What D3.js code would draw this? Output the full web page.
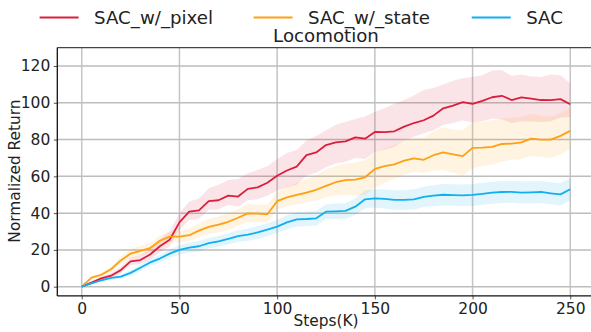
<!DOCTYPE html>
<html><head><meta charset="utf-8">
<script src="https://cdn.jsdelivr.net/npm/d3@7"></script>
<style>body{margin:0;background:#fff}svg{display:block}text{font-family:"DejaVu Sans",sans-serif}</style>
</head><body>
<script>
const steps = d3.range(0, 251, 5);
const seriesNames = ["SAC_w/_pixel", "SAC_w/_state", "SAC"];
const seriesColors = ["#dc1e3c", "#ffa010", "#0fb0f0"];
const xTicks = [0, 50, 100, 150, 200, 250];
const yTicks = [0, 20, 40, 60, 80, 100, 120];

const pixel = [0,2.2,4.5,6.0,9.0,13.8,14.5,17.5,22.0,25.5,35.0,40.8,41.5,46.5,47.0,49.5,49.0,53.2,54.0,56.5,60.3,63.2,65.3,71.5,73.0,77.0,78.5,79.0,81.2,80.5,84.1,84.0,84.5,87.0,89.0,90.5,93.0,97.0,98.5,100.3,99.4,101.0,103.0,103.8,101.5,102.9,102.3,101.5,101.4,102.0,99.2];
const pixelHi = [0.5,3.0,5.6,7.5,10.8,15.8,17.3,20.7,25.8,30.0,40.0,46.3,48.0,53.5,55.5,58.0,58.5,61.7,63.5,65.5,69.3,72.7,74.3,79.5,82.0,85.0,88.0,89.5,91.2,92.5,95.1,97.0,99.5,101.5,104.0,107.0,108.0,110.0,112.0,113.3,114.0,115.0,117.5,117.8,114.5,115.4,114.3,114.0,115.4,115.0,110.6];
const pixelLo = [-0.5,1.5,3.5,4.6,7.3,11.8,12.3,14.8,18.8,21.8,31.0,36.3,37.0,41.8,42.0,44.5,43.5,47.0,47.5,49.5,52.3,54.0,55.5,60.5,62.0,65.0,67.0,68.0,70.0,69.5,73.1,74.5,76.0,79.5,81.5,83.5,85.0,88.0,89.0,90.3,89.4,90.0,91.5,91.0,89.0,89.9,89.8,89.5,90.0,92.0,92.2];

const state = [0,4.9,6.5,9.5,14.3,18.0,19.5,21.0,25.0,27.2,27.2,28.0,30.5,32.5,33.7,35.3,37.5,39.9,39.7,39.4,46.5,48.6,49.9,51.2,52.7,54.8,56.8,58.0,58.2,59.5,64.0,65.5,66.5,68.5,69.8,69.0,71.5,73.0,72.0,71.0,75.5,75.6,76.0,77.6,77.8,78.5,80.5,80.0,80.0,82.0,84.7];
const stateHi = [0.5,5.6,7.6,10.9,16.4,20.5,22.2,23.8,27.8,30.2,30.2,31.5,34.5,36.8,38.2,40.0,42.3,44.8,44.7,44.6,51.5,54.2,56.5,58.5,60.5,63.8,65.5,67.0,67.5,68.8,72.7,75.0,77.0,79.5,81.0,81.0,84.5,86.5,85.5,85.0,89.5,89.5,90.5,91.5,92.0,92.4,94.0,93.0,92.5,94.5,97.0];
const stateLo = [-0.5,4.0,5.3,8.0,12.5,15.5,17.0,18.4,22.3,24.3,24.2,24.8,27.0,28.7,29.6,30.8,33.0,35.2,35.0,34.9,42.0,43.8,44.7,45.8,46.9,48.8,49.8,50.0,49.5,50.0,54.0,56.5,58.5,61.0,62.5,62.0,63.0,63.5,62.0,60.5,64.5,65.5,66.5,68.0,69.0,69.5,71.0,70.5,70.0,72.0,74.7];

const sac = [0,1.8,3.5,4.8,5.5,7.5,10.3,13.2,15.3,18.0,20.0,21.3,22.0,23.7,24.6,26.0,27.5,28.3,29.5,31.0,32.7,35.0,36.6,36.8,37.2,40.8,41.0,41.2,43.5,47.5,48.0,47.7,47.2,47.2,47.5,48.8,49.5,50.0,49.8,49.7,49.9,50.5,51.1,51.5,51.6,51.2,51.3,51.5,50.8,50.2,53.0];
const sacHi = [0.5,2.4,4.3,5.8,6.7,9.0,12.0,15.0,17.3,20.2,22.5,24.0,24.8,26.5,27.5,29.0,30.7,31.6,33.0,34.5,36.2,38.8,40.5,40.8,41.2,44.8,45.2,45.5,48.0,52.3,53.0,52.9,52.5,52.6,53.0,54.3,55.2,55.8,55.7,55.6,55.9,56.5,57.1,57.5,57.6,57.2,57.3,57.5,56.8,56.2,59.0];
const sacLo = [-0.5,1.2,2.7,3.8,4.3,6.0,8.6,11.3,13.2,15.8,17.5,18.6,19.2,20.9,21.7,23.0,24.3,25.0,26.0,27.5,29.2,31.2,32.8,33.0,33.2,36.8,37.0,37.0,39.0,42.7,43.0,42.5,41.9,41.8,42.0,43.3,43.8,44.2,44.0,43.8,43.9,44.5,45.1,45.5,45.6,45.2,45.3,45.5,44.8,44.2,47.0];

const W = 591, H = 332;
const svg = d3.select("body").append("svg").attr("width", W).attr("height", H);
const x = d3.scaleLinear().domain([-12.5, 262.5]).range([57.3, 594.7]);
const y = d3.scaleLinear().domain([-5, 130]).range([295.9, 47.6]);
const L = 57.3, R = 600, T = 47.6, B = 295.9;

// grid
const grid = svg.append("g");
grid.selectAll(".gx").data(xTicks).join("line")
  .attr("x1", d => x(d)).attr("x2", d => x(d)).attr("y1", T).attr("y2", B)
  .attr("stroke", "#c4c4c4").attr("stroke-width", 1.5);
grid.selectAll(".gy").data(yTicks).join("line")
  .attr("x1", L).attr("x2", R).attr("y1", d => y(d)).attr("y2", d => y(d))
  .attr("stroke", "#bdbdbd").attr("stroke-width", 1.5);

const series = [
  {mean: pixel, hi: pixelHi, lo: pixelLo},
  {mean: state, hi: stateHi, lo: stateLo},
  {mean: sac, hi: sacHi, lo: sacLo}
];
const area = d3.area().x(d => x(d.s)).y0(d => y(d.lo)).y1(d => y(d.hi));
const line = d3.line().x(d => x(d.s)).y(d => y(d.m));
series.forEach((sr, i) => {
  const pts = steps.map((s, k) => ({s, m: sr.mean[k], hi: sr.hi[k], lo: sr.lo[k]}));
  svg.append("path").datum(pts).attr("d", area).attr("fill", seriesColors[i]).attr("fill-opacity", 0.12);
});
series.forEach((sr, i) => {
  const pts = steps.map((s, k) => ({s, m: sr.mean[k]}));
  svg.append("path").datum(pts).attr("d", line).attr("fill", "none")
    .attr("stroke", seriesColors[i]).attr("stroke-width", 1.8).attr("stroke-linejoin", "round");
});

// axes
const xAxis = svg.append("g").attr("transform", `translate(0,${B})`)
  .call(d3.axisBottom(x).tickValues(xTicks).tickSize(3.5).tickPadding(3.5).tickFormat(d3.format("d")));
const yAxis = svg.append("g").attr("transform", `translate(${L},0)`)
  .call(d3.axisLeft(y).tickValues(yTicks).tickSize(3.5).tickPadding(3.5).tickFormat(d3.format("d")));
[xAxis, yAxis].forEach(a => {
  a.select(".domain").remove();
  a.selectAll("text").attr("font-size", 15.5).attr("fill", "#222").attr("font-family", "DejaVu Sans");
  a.selectAll(".tick line").attr("stroke", "#555");
});
// spines
svg.append("line").attr("x1", L).attr("x2", L).attr("y1", T).attr("y2", B).attr("stroke", "#111").attr("stroke-width", 1.3);
svg.append("line").attr("x1", L).attr("x2", R).attr("y1", B).attr("y2", B).attr("stroke", "#111").attr("stroke-width", 1.3);
svg.append("line").attr("x1", L).attr("x2", R).attr("y1", T).attr("y2", T).attr("stroke", "#444").attr("stroke-width", 1.3);

// labels
svg.append("text").attr("x", 326).attr("y", 326).attr("text-anchor", "middle")
  .attr("font-size", 15.4).attr("fill", "#222").text("Steps(K)");
svg.append("text").attr("transform", "translate(20,171) rotate(-90)").attr("text-anchor", "middle")
  .attr("font-size", 15.4).attr("fill", "#222").text("Normalized Return");
svg.append("text").attr("x", 326).attr("y", 42).attr("text-anchor", "middle")
  .attr("font-size", 18.2).attr("fill", "#222").text("Locomotion");

// legend
const legX = [39.6, 253.6, 471.7];
const leg = svg.append("g");
seriesNames.forEach((n, i) => {
  leg.append("line").attr("x1", legX[i]).attr("x2", legX[i] + 39).attr("y1", 17.5).attr("y2", 17.5)
    .attr("stroke", seriesColors[i]).attr("stroke-width", 1.8);
  leg.append("text").attr("x", legX[i] + 54.5).attr("y", 23.8).attr("font-size", 18.2)
    .attr("fill", "#222").text(n);
});
</script>
</body></html>
